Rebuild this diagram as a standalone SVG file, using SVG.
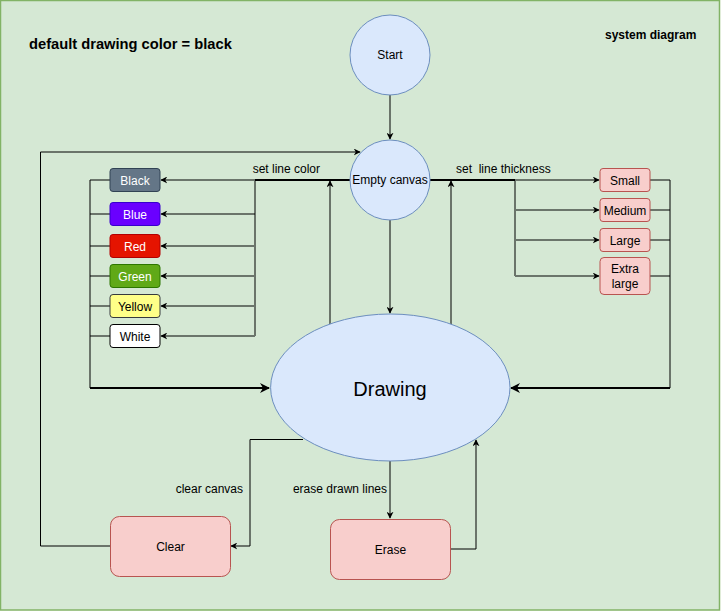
<svg xmlns="http://www.w3.org/2000/svg" width="721" height="611" viewBox="0 0 721 611">
<defs>
<marker id="ah" viewBox="0 0 10 10" refX="9" refY="5" markerWidth="7" markerHeight="7" markerUnits="userSpaceOnUse" orient="auto">
<path d="M0,0 L10,5 L0,10 L3,5 Z" fill="#000"/>
</marker>
<marker id="ah2" viewBox="0 0 10 10" refX="9" refY="5" markerWidth="10" markerHeight="10" markerUnits="userSpaceOnUse" orient="auto">
<path d="M0,0 L10,5 L0,10 L3,5 Z" fill="#000"/>
</marker>
</defs>
<style>
text{font-family:"Liberation Sans",Arial,sans-serif;fill:#000;}
.c{text-anchor:middle;dominant-baseline:central;}
.circ{fill:#dae8fc;stroke:#6c8ebf;stroke-width:1;}
.pink{fill:#f8cecc;stroke:#b85450;stroke-width:1;}
.e{fill:none;stroke:#000;stroke-width:1;}
.t{fill:none;stroke:#000;stroke-width:2;}
.g{fill:none;stroke:#6b756b;stroke-width:2;}
.w{fill:#fff;font-size:12px;}
.s{font-size:12px;}
.lbl{font-size:12px;}
</style>
<rect x="0.5" y="0.5" width="719" height="609.5" fill="#d5e8d4" stroke="#82b366" stroke-width="1.5"/>
<text x="29" y="44" font-size="14.7" font-weight="bold" dominant-baseline="central">default drawing color = black</text>
<text x="605" y="35" font-size="12" font-weight="bold" dominant-baseline="central">system diagram</text>

<g id="connectors">
<path class="e" d="M390,95 L390,139" marker-end="url(#ah)"/>
<path class="e" d="M390,220 L390,313" marker-end="url(#ah)"/>
<path class="t" d="M350,180 L255,180"/>
<path class="e" d="M255,180 L255,336"/>
<path class="g" d="M255,180 L161,180" marker-end="url(#ah)"/>
<path class="e" d="M255,214 L161,214" marker-end="url(#ah)"/>
<path class="g" d="M255,246 L161,246" marker-end="url(#ah)"/>
<path class="g" d="M255,276 L161,276" marker-end="url(#ah)"/>
<path class="g" d="M255,306 L161,306" marker-end="url(#ah)"/>
<path class="g" d="M255,336 L161,336" marker-end="url(#ah)"/>
<path class="g" d="M110,180 L90,180"/>
<path class="e" d="M110,214 L90,214"/>
<path class="g" d="M110,246 L90,246"/>
<path class="g" d="M110,276 L90,276"/>
<path class="g" d="M110,306 L90,306"/>
<path class="g" d="M110,336 L90,336"/>
<path class="e" d="M90,180 L90,388"/>
<path class="t" d="M90,388 L269,388" marker-end="url(#ah2)"/>
<path class="t" d="M430,180 L515,180"/>
<path class="e" d="M515,180 L515,276"/>
<path class="g" d="M515,180 L599,180" marker-end="url(#ah)"/>
<path class="g" d="M515,210 L599,210" marker-end="url(#ah)"/>
<path class="g" d="M515,240 L599,240" marker-end="url(#ah)"/>
<path class="g" d="M515,276 L599,276" marker-end="url(#ah)"/>
<path class="g" d="M650,180 L670,180"/>
<path class="g" d="M650,210 L670,210"/>
<path class="g" d="M650,240 L670,240"/>
<path class="g" d="M650,276 L670,276"/>
<path class="e" d="M670,180 L670,388"/>
<path class="t" d="M670,388 L511,388" marker-end="url(#ah2)"/>
<path class="e" d="M330,324 L330,181" marker-end="url(#ah)"/>
<path class="e" d="M451,324 L451,181" marker-end="url(#ah)"/>
<path class="e" d="M303,439.5 L250,439.5 L250,546 L231,546" marker-end="url(#ah)"/>
<path class="e" d="M110,546 L40.5,546 L40.5,152 L360,152" marker-end="url(#ah)"/>
<path class="e" d="M390,461 L390,518" marker-end="url(#ah)"/>
<path class="e" d="M450,549 L476,549 L476,440" marker-end="url(#ah)"/>
<text class="lbl" x="320" y="169" text-anchor="end" dominant-baseline="central">set line color</text>
<text class="lbl" x="456" y="169" dominant-baseline="central" xml:space="preserve">set  line thickness</text>
<text class="lbl" x="243" y="489" text-anchor="end" dominant-baseline="central">clear canvas</text>
<text class="lbl" x="387" y="489" text-anchor="end" dominant-baseline="central">erase drawn lines</text>
</g>

<g id="start"><circle class="circ" cx="390" cy="55" r="40"/><text class="c s" x="390" y="55">Start</text></g>
<g id="empty-canvas"><circle class="circ" cx="390" cy="180" r="40"/><text class="c s" x="390" y="180">Empty canvas</text></g>
<g id="drawing"><ellipse class="circ" cx="390.3" cy="387.5" rx="119.7" ry="73.5"/><text class="c" x="390" y="389" font-size="20">Drawing</text></g>

<g id="black"><rect x="110" y="168.5" width="50" height="23" rx="3" fill="#647687" stroke="#314354"/><text class="c w" x="135" y="180.5">Black</text></g>
<g id="blue"><rect x="110" y="202.5" width="50" height="23" rx="3" fill="#6a00ff" stroke="#3700cc"/><text class="c w" x="135" y="214.5">Blue</text></g>
<g id="red"><rect x="110" y="234.5" width="50" height="23" rx="3" fill="#e51400" stroke="#b20000"/><text class="c w" x="135" y="246.5">Red</text></g>
<g id="green"><rect x="110" y="264.5" width="50" height="23" rx="3" fill="#60a917" stroke="#2d7600"/><text class="c w" x="135" y="276.5">Green</text></g>
<g id="yellow"><rect x="110" y="294.5" width="50" height="23" rx="3" fill="#ffff88" stroke="#36393d"/><text class="c s" x="135" y="306.5">Yellow</text></g>
<g id="white"><rect x="110" y="324.5" width="50" height="23" rx="3" fill="#ffffff" stroke="#000"/><text class="c s" x="135" y="336.5">White</text></g>

<g id="small"><rect class="pink" x="600" y="168.5" width="50" height="23" rx="3"/><text class="c s" x="625" y="180.5">Small</text></g>
<g id="medium"><rect class="pink" x="600" y="198.5" width="50" height="23" rx="3"/><text class="c s" x="625" y="210.5">Medium</text></g>
<g id="large"><rect class="pink" x="600" y="228.5" width="50" height="23" rx="3"/><text class="c s" x="625" y="240.5">Large</text></g>
<g id="extra-large"><rect class="pink" x="600" y="257.5" width="50" height="37" rx="4"/><text class="c s" x="625" y="268.5">Extra</text><text class="c s" x="625" y="283.5">large</text></g>

<g id="clear"><rect class="pink" x="110.5" y="516.5" width="120" height="60" rx="9"/><text class="c s" x="170.5" y="546.5">Clear</text></g>
<g id="erase"><rect class="pink" x="330.5" y="519.5" width="120" height="60" rx="9"/><text class="c s" x="390.5" y="549.5">Erase</text></g>
</svg>
